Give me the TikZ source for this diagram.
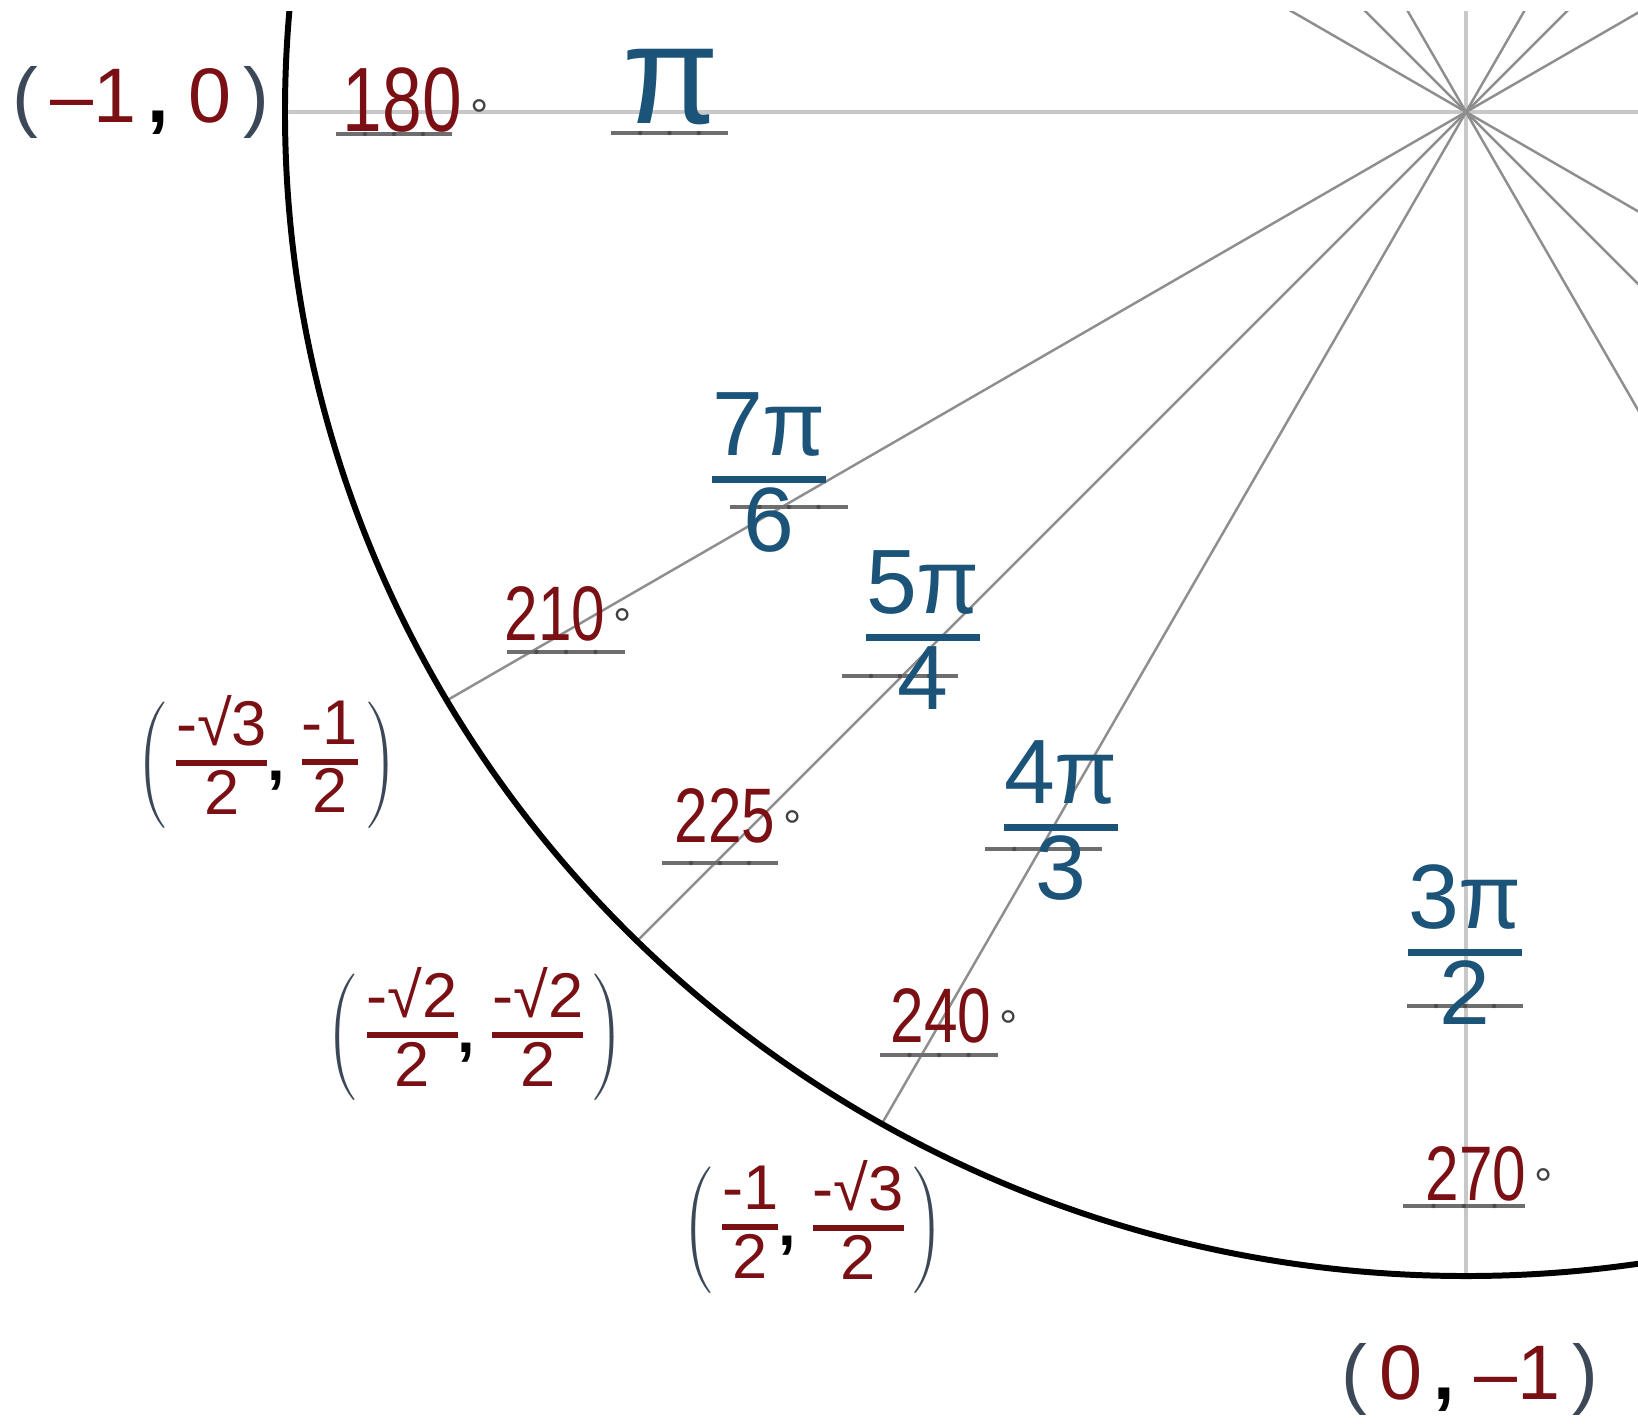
\documentclass[tikz,border=0pt]{standalone}
\usepackage{fontspec}
\setmainfont{Liberation Sans}
\usepackage{graphicx}
\usepackage{tikz}
\definecolor{degred}{HTML}{7A1014}
\definecolor{radblue}{HTML}{1B5478}
\definecolor{parslate}{HTML}{3C4858}
\definecolor{raygrey}{HTML}{8E8E8E}
\definecolor{axisgrey}{HTML}{C8C8C8}
\definecolor{markgrey}{HTML}{6E6E6E}
\setlength{\arrayrulewidth}{1.8pt}
\newcommand{\hfr}[2]{\begin{tabular}{@{}c@{}}#1\\[-0.1em]\hline #2\end{tabular}}
\newcommand{\hw}[1]{\scalebox{0.78}[1]{#1}}
\newcommand{\dg}{\hspace{0.1em}{\fontsize{13}{13}\selectfont\textcolor{markgrey!60!black}{°}}}
\newcommand{\cpt}[2]{$\color{parslate}\left(\,\textcolor{degred}{#1}\mbox{\textcolor{black}{\textbf{,}}}\;\textcolor{degred}{#2}\,\right)$}

\begin{document}
\begin{tikzpicture}[font=\fontsize{22}{24}\selectfont,
    ray/.style={raygrey, line width=0.7pt},
    axisline/.style={axisgrey, line width=1.4pt},
    uline/.style={markgrey, line width=1.1pt},
    deg/.style={degred, anchor=base, inner sep=0pt},
    rad/.style={radblue, inner sep=0pt, font=\fontsize{26}{28}\selectfont},
    coordlbl/.style={degred, inner sep=0pt, font=\fontsize{18}{19.5}\selectfont}]
    \useasboundingbox (-14.66,-13.11) rectangle (1.72,1.12);
    \coordinate (o) at (0,0);

    % spokes, axes and circle
    \begin{scope}
      \clip (-14.66,-13.11) rectangle (1.72,1.00);
      \begin{scope}
        \clip (o) ellipse (11.81 and 11.64);
        \foreach \a in {0,90,180,270}
          \draw[axisline] (o) -- (\a:13);
        \foreach \a in {30,45,60,120,135,150,210,225,240,300,315,330}
          \draw[ray] (o) -- (\a:13);
      \end{scope}
      \draw[line width=1.7pt] (o) ellipse (11.81 and 11.64);
    \end{scope}

    % underlines
    \foreach \xa/\xb/\y in {-11.30/-10.14/-0.22, -8.55/-7.38/-0.21, -7.36/-6.18/-3.95,
                            -9.59/-8.41/-5.40, -6.24/-5.08/-5.64, -8.04/-6.88/-7.51,
                            -4.81/-3.64/-7.37, -5.86/-4.68/-9.43, -0.59/0.57/-8.94,
                            -0.63/0.59/-10.94} {
      \draw[uline] (\xa,\y) -- (\xb,\y);
      \foreach \t in {0.25,0.5,0.75}
        \fill[markgrey!70!black] ({\xa+\t*(\xb-\xa)},\y) circle (0.022);
    }

    % degrees
    \node[deg] (d180) at (-10.50,-0.19) {\fontsize{26}{28}\selectfont\hw{180}\dg};
    \node[deg] (d210) at (-8.98,-5.28)  {\hw{210}\dg};
    \node[deg] (d225) at (-7.28,-7.30)  {\hw{225}\dg};
    \node[deg] (d240) at (-5.12,-9.30)  {\hw{240}\dg};
    \node[deg] (d270) at (0.23,-10.88)  {\hw{270}\dg};

    % radians
    \node[rad,font=\fontsize{40}{42}\selectfont] (r180) at (-7.95,0.25) {π};
    \node[rad] (r210) at (-6.97,-3.72) {\hfr{7π}{6}};
    \node[rad] (r225) at (-5.43,-5.30) {\hfr{5π}{4}};
    \node[rad] (r240) at (-4.05,-7.20) {\hfr{4π}{3}};
    \node[rad] (r270) at (-0.01,-8.45) {\hfr{3π}{2}};

    % points on the circle
    \node[coordlbl,font=\fontsize{22}{24}\selectfont] (p180) at (-13.25,0.10)
      {\textcolor{parslate}{(}\hspace{0.15em}–1\hspace{0.15em}\textcolor{black}{\textbf{,}}\hspace{0.25em}0\hspace{0.15em}\textcolor{parslate}{)}};
    \node[coordlbl] (p210) at (-11.99,-6.53) {\cpt{\hfr{-√3}{2}}{\hfr{-1}{2}}};
    \node[coordlbl] (p225) at (-9.91,-9.25)  {\cpt{\hfr{-√2}{2}}{\hfr{-√2}{2}}};
    \node[coordlbl] (p240) at (-6.53,-11.18) {\cpt{\hfr{-1}{2}}{\hfr{-√3}{2}}};
    \node[coordlbl,font=\fontsize{22}{24}\selectfont] (p270) at (0.04,-12.67)
      {\textcolor{parslate}{(}\hspace{0.15em}0\hspace{0.15em}\textcolor{black}{\textbf{,}}\hspace{0.25em}–1\hspace{0.15em}\textcolor{parslate}{)}};
  \end{tikzpicture}
\end{document}
